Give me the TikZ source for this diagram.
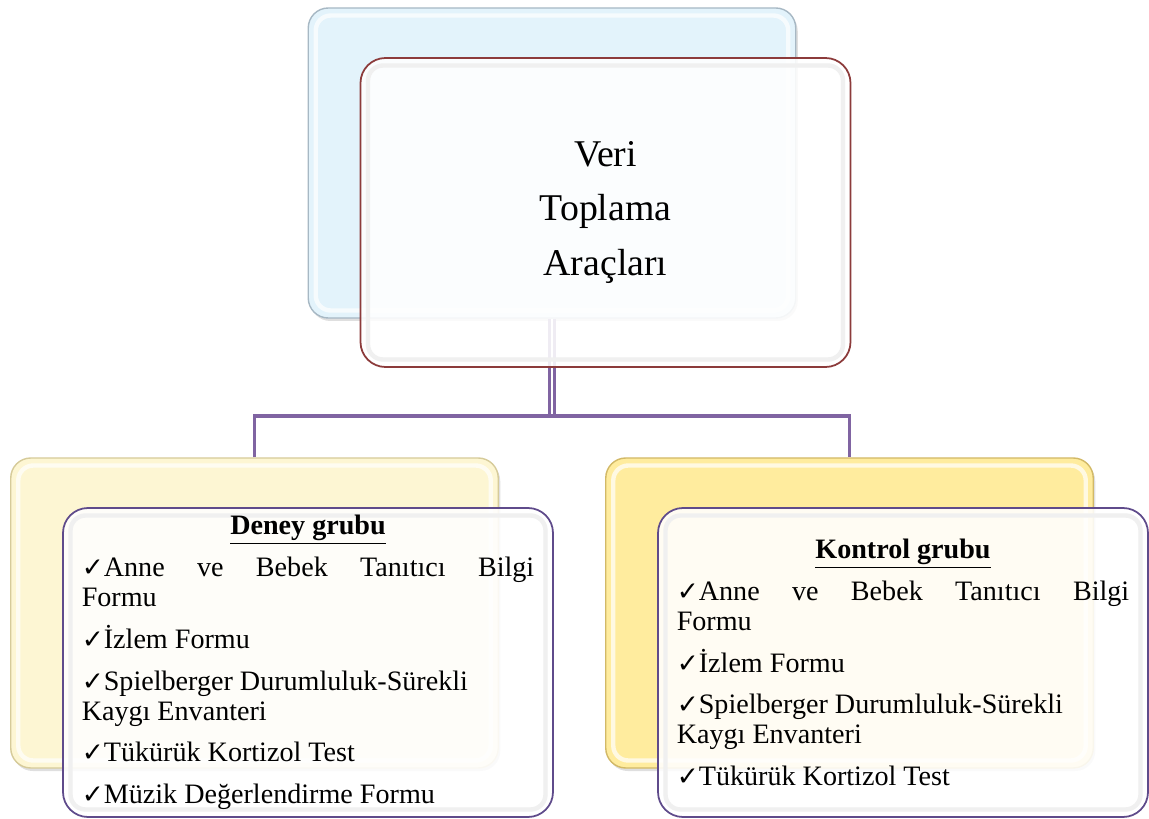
\documentclass[tikz,border=0pt]{standalone}
\usepackage{fontspec}
\setmainfont{Liberation Serif}
\newfontfamily\symfont{DejaVu Sans}
\usetikzlibrary{positioning,shadows}

\definecolor{backblue}{HTML}{E3F3FB}
\definecolor{backblueline}{HTML}{A7B8C4}
\definecolor{backpale}{HTML}{FDF6D3}
\definecolor{backpaleline}{HTML}{D6CB9A}
\definecolor{backgold}{HTML}{FFEC9E}
\definecolor{backgoldline}{HTML}{D2B967}
\definecolor{redline}{HTML}{8C3B3B}
\definecolor{purpleline}{HTML}{5F4B8B}
\definecolor{linkpurple}{HTML}{8064A2}

\newcommand{\tick}{{\symfont\fontsize{15}{17}\selectfont ✓}}

\begin{document}
\begin{tikzpicture}[
                    gloss/.style={path picture={
                        \draw[#1, line width=2.5pt, rounded corners=0.3cm]
                            ([shift={(0.15,-0.15)}]path picture bounding box.north west) rectangle
                            ([shift={(-0.15,0.15)}]path picture bounding box.south east);}},
                    backbox/.style={rectangle, rounded corners=0.4cm,
                        minimum width=9.75cm, minimum height=6.2cm, line width=0.8pt,
                        gloss={white, opacity=0.7},
                        drop shadow={opacity=0.25, shadow xshift=0.04cm, shadow yshift=-0.06cm}},
                    frontbox/.style={rectangle, draw, rounded corners=0.5cm,
                        minimum width=9.8cm, minimum height=6.18cm, line width=1pt,
                        fill=white, fill opacity=0.88, text opacity=1,
                        gloss={black!6, opacity=1},
                        xshift=1.07cm, yshift=-0.99cm},
                    listtext/.style={text width=9.05cm, align=justify,
                        font=\fontsize{16}{17}\selectfont},
                    link/.style={linkpurple, line width=2.2pt}
                ]
                \useasboundingbox (0,0) rectangle (22.98,16.36);

                % back cards
                \node[backbox, fill=backblue, draw=backblueline] (veri-back) at (11.04,13.10) {};
                \node[backbox, fill=backpale, draw=backpaleline] (deney-back) at (5.09,4.10) {};
                \node[backbox, fill=backgold, draw=backgoldline] (kontrol-back) at (16.99,4.10) {};

                % connectors
                \draw[link, line width=1.3pt, double=white, double distance=1.6pt]
                    (veri-back.south) -- ++(0,-1.94) coordinate (fork);
                \draw[link] (deney-back.north) |- (fork) -| (kontrol-back.north);

                % front cards
                \node[frontbox, draw=redline, align=center,
                      font=\fontsize{21.5}{31}\selectfont] (veri) at (veri-back)
                    {Veri\\Toplama\\Araçları};

                \node[frontbox, draw=purpleline, listtext] (deney) at (deney-back)
                    {\noindent\hfill\underline{\textbf{Deney grubu}}\hfill\null\\[6.8pt]
                     \tick Anne ve Bebek Tanıtıcı Bilgi\linebreak Formu\\[6.8pt]
                     \tick İzlem Formu\\[6.8pt]
                     \tick Spielberger Durumluluk-Sürekli\\ Kaygı Envanteri\\[6.8pt]
                     \tick Tükürük Kortizol Test\\[6.8pt]
                     \tick Müzik Değerlendirme Formu};

                \node[frontbox, draw=purpleline, listtext] (kontrol) at (kontrol-back)
                    {\noindent\hfill\underline{\textbf{Kontrol grubu}}\hfill\null\\[6.8pt]
                     \tick Anne ve Bebek Tanıtıcı Bilgi\linebreak Formu\\[6.8pt]
                     \tick İzlem Formu\\[6.8pt]
                     \tick Spielberger Durumluluk-Sürekli\\ Kaygı Envanteri\\[6.8pt]
                     \tick Tükürük Kortizol Test};
            \end{tikzpicture}
\end{document}
